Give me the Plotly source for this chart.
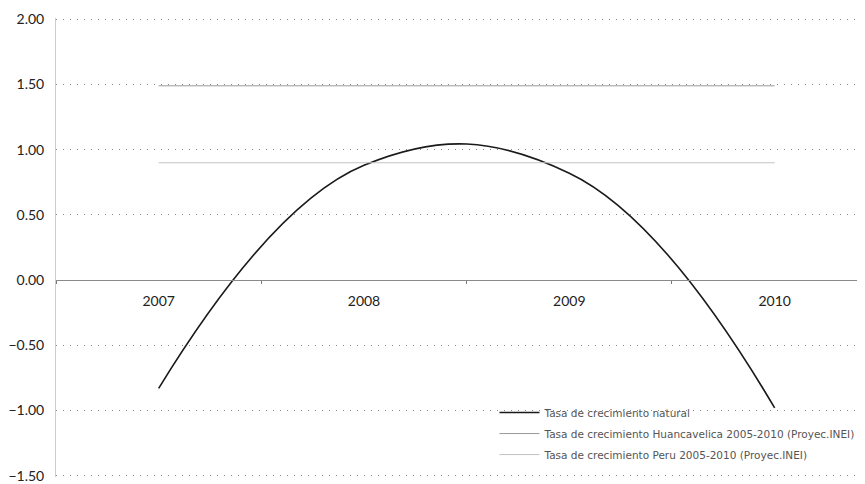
import plotly.graph_objects as go

# Datos
anios = ['2007', '2008', '2009', '2010']
tasa_natural = [-0.83, 0.88, 0.82, -0.98]
tasa_huancavelica = [1.49, 1.49, 1.49, 1.49]
tasa_peru = [0.90, 0.90, 0.90, 0.90]

nombres = ['Tasa de crecimiento natural',
           'Tasa de crecimiento Huancavelica 2005-2010 (Proyec.INEI)',
           'Tasa de crecimiento Peru 2005-2010 (Proyec.INEI)']

fig = go.Figure()

fig.add_trace(go.Scatter(x=anios, y=tasa_natural, mode='lines', name=nombres[0],
                         legendgroup='a',
                         line=dict(color='#1a1a1a', width=1.6, shape='spline', smoothing=1.2)))
fig.add_trace(go.Scatter(x=anios, y=tasa_huancavelica, mode='lines', name=nombres[1],
                         legendgroup='b',
                         line=dict(color='#9a9a9a', width=1)))
fig.add_trace(go.Scatter(x=anios, y=tasa_peru, mode='lines', name=nombres[2],
                         legendgroup='c',
                         line=dict(color='#c4c4c4', width=1)))

# la pagina tiene 8px de margen en el body: se compensa aqui
fig.update_layout(
    width=857, height=484,
    margin=dict(l=48, r=0, t=10, b=15, autoexpand=False),
    paper_bgcolor='white', plot_bgcolor='white',
    font=dict(family='Lato', size=14, color='#222222'),
    showlegend=True,
    legend=dict(x=0.542, y=0.172, xanchor='left', yanchor='top',
                bgcolor='rgba(0,0,0,0)', tracegroupgap=2,
                itemwidth=40,
                font=dict(family='DejaVu Sans', size=10.5, color='#555555')),
)

y_min, y_max = -1.51, 2.01

fig.update_xaxes(type='category', range=[-0.5, 3.44], automargin=False,
                 anchor='free', position=-y_min / (y_max - y_min),
                 showline=True, linecolor='#8a8a8a', linewidth=1,
                 showgrid=False, zeroline=False,
                 ticks='outside', tickson='boundaries', ticklen=3, tickcolor='#777777',
                 ticklabelstandoff=8,
                 tickfont=dict(family='Lato', size=14, color='#222222'))

fig.update_yaxes(range=[y_min, y_max], dtick=0.5, tick0=0, tickformat='.2f', automargin=False,
                 showgrid=True, gridcolor='#8a8a8a', griddash='1px,6px', gridwidth=1,
                 zeroline=False,
                 showline=True, linecolor='#cccccc', linewidth=1,
                 ticks='', ticklabelstandoff=8,
                 tickfont=dict(family='Lato', size=14, color='#222222'))

fig.write_html("out.html")
